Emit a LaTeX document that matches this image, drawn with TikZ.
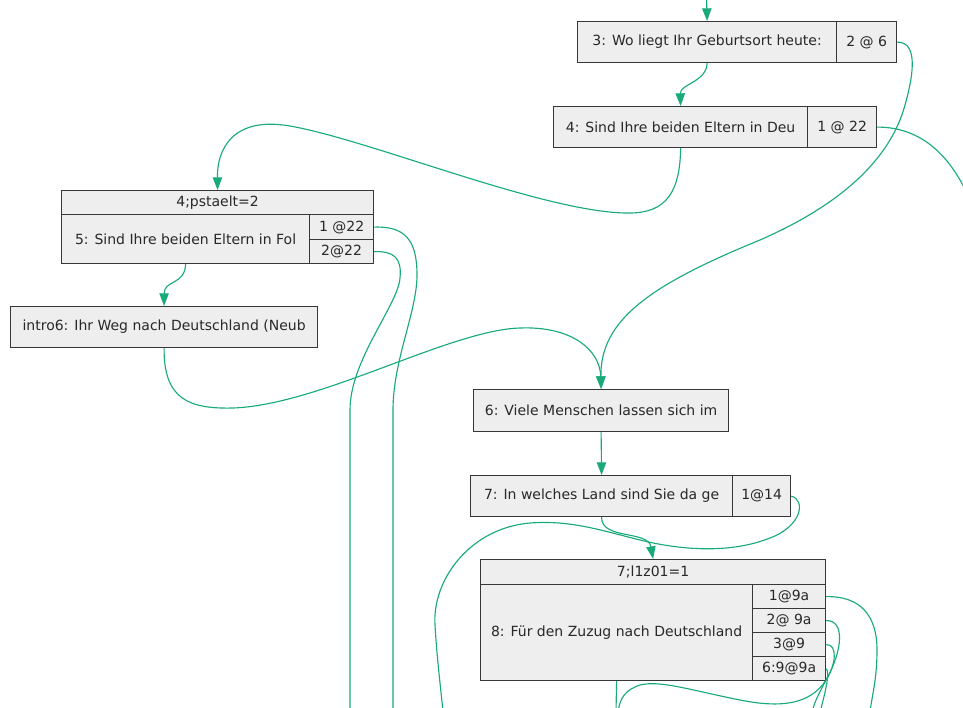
\documentclass[tikz,border=0pt]{standalone}
\usepackage{fontspec}
\setmainfont{DejaVu Sans}
\usetikzlibrary{arrows.meta}
\definecolor{edgec}{RGB}{24,170,122}
\definecolor{boxfill}{RGB}{238,238,238}
\definecolor{boxline}{RGB}{55,55,55}
\definecolor{txt}{RGB}{40,40,40}
\newcommand\recfld[6]{\node[fld, minimum width={(#4-#2)*0.75pt}, minimum height={(#5-#3)*0.75pt}, anchor=north west] (#1) at (#2,#3) {#6};}
\begin{document}
\begin{tikzpicture}[x=0.75pt, y=-0.75pt,
  fld/.style={draw=boxline, fill=boxfill, line width=0.9pt, inner sep=0pt, text=txt, font=\fontsize{10.5pt}{12pt}\selectfont},
  conn/.style={draw=edgec, line width=0.85pt},
  arr/.style={-{Triangle[length=9.5pt,width=7pt]}}]
\useasboundingbox (0,0) rectangle (963,707);
\clip (0,0) rectangle (963,707);
% nodes
\recfld{n3}{577}{21}{836}{62}{3: Wo liegt Ihr Geburtsort heute:}
\recfld{n3p}{836}{21}{896}{62}{2 @ 6}
\recfld{n4}{553}{106}{807}{147}{4: Sind Ihre beiden Eltern in Deu}
\recfld{n4p}{807}{106}{876}{147}{1 @ 22}
\recfld{n5h}{61}{190}{373}{214}{4;pstaelt=2}
\recfld{n5}{61}{214}{309}{263}{5: Sind Ihre beiden Eltern in Fol}
\recfld{n5a}{309}{214}{373}{239}{1 @22}
\recfld{n5b}{309}{239}{373}{263}{2@22}
\recfld{i6}{10}{306}{317}{347}{intro6: Ihr Weg nach Deutschland (Neub}
\recfld{n6}{473}{389}{728}{431}{6: Viele Menschen lassen sich im}
\recfld{n7}{470}{475}{732}{516}{7: In welches Land sind Sie da ge}
\recfld{n7p}{732}{475}{790}{516}{1@14}
\recfld{n8h}{480}{559}{825}{584}{7;l1z01=1}
\recfld{n8}{480}{584}{752}{680}{8: Für den Zuzug nach Deutschland}
\recfld{n8a}{752}{584}{825}{608}{1@9a}
\recfld{n8b}{752}{608}{825}{632}{2@ 9a}
\recfld{n8c}{752}{632}{825}{656}{3@9}
\recfld{n8d}{752}{656}{825}{680}{6:9@9a}
% free ends
\coordinate (top) at (706.5,-5);
\coordinate (rt) at (972,205);
\coordinate (b1) at (393,712);
\coordinate (b2) at (350,712);
\coordinate (b3) at (443,712);
\coordinate (b4) at (616,712);
\coordinate (b5) at (870,712);
\coordinate (b6) at (812,712);
\coordinate (b7) at (618,712);
\coordinate (b8) at (820,712);
% connectors
\draw[conn,arr] (top) -- (n3.north);
\draw[conn,arr] (n3.south) .. controls (706.5,82) and (680,84) .. (n4.north);
\draw[conn,arr] (n4.south) .. controls (680,200) and (660,214) .. (625,213) .. controls (540,211) and (370,140) .. (290,126) .. controls (232,116) and (217,150) .. (n5h.north);
\draw[conn,arr] (n5.south) .. controls (185,285) and (164,280) .. (i6.north);
\draw[conn,arr] (i6.south) .. controls (163.5,400) and (190,409) .. (233,408) .. controls (320,405) and (450,330) .. (520,328) .. controls (572,326) and (600,350) .. (n6.north);
\draw[conn,arr] (n3p.east) .. controls (920,42) and (912,80) .. (905,105) .. controls (890,160) and (840,205) .. (760,240) .. controls (650,285) and (600,320) .. (n6.north);
\draw[conn] (n4p.east) .. controls (912,127) and (948,145) .. (rt);
\draw[conn] (n5a.east) .. controls (405,226) and (417,240) .. (417,275) .. controls (417,312) and (393,360) .. (393,410) -- (b1);
\draw[conn] (n5b.east) .. controls (394,251) and (402,258) .. (400,278) .. controls (398,305) and (350,360) .. (350,410) -- (b2);
\draw[conn,arr] (n6.south) -- (n7.north);
\draw[conn,arr] (n7.south) .. controls (601,540) and (648,530) .. (n8h.north);
\draw[conn] (n7p.east) .. controls (806,500) and (802,526) .. (770,538) .. controls (730,554) and (680,550) .. (640,540) .. controls (600,530) and (570,520) .. (530,523) .. controls (470,528) and (432,580) .. (435,625) .. controls (437,660) and (441,690) .. (b3);
\draw[conn] (n8.south) -- (b4);
\draw[conn] (n8a.east) .. controls (860,596) and (877,615) .. (877,650) .. controls (877,680) and (872,695) .. (b5);
\draw[conn] (n8b.east) .. controls (845,620) and (843,650) .. (826,680) .. controls (820,692) and (815,700) .. (b6);
\draw[conn] (n8c.east) .. controls (838,644) and (836,665) .. (826,680) .. controls (810,705) and (780,708) .. (740,700) .. controls (690,690) and (660,680) .. (640,685) .. controls (625,690) and (620,698) .. (b7);
\draw[conn] (n8d.east) .. controls (830,672) and (826,690) .. (b8);
\end{tikzpicture}
\end{document}
